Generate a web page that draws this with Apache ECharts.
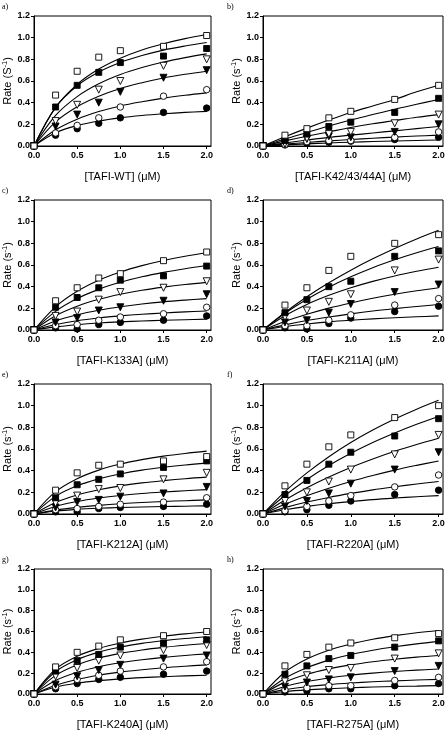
<!DOCTYPE html>
<html>
<head>
<meta charset="utf-8">
<script src="https://cdn.jsdelivr.net/npm/echarts@6/dist/echarts.min.js"></script>
<style>
html,body{margin:0;padding:0;background:#fff;}
#chart{width:448px;height:731px;}
</style>
</head>
<body>
<div id="chart"></div>
<script>
// ---------- data ----------
const xPoints = [0, 0.25, 0.5, 0.75, 1.0, 1.5, 2.0];
const xFit = [0, 0.25, 0.5, 0.75, 1.0, 1.25, 1.5, 1.75, 2.0];
const xTicks = [0, 0.5, 1.0, 1.5, 2.0];
const yTicks = [0, 0.2, 0.4, 0.6, 0.8, 1.0, 1.2];
const seriesNames = ['open square', 'filled square', 'open triangle', 'filled triangle', 'open circle', 'filled circle'];
const panelLetters = ['a)', 'b)', 'c)', 'd)', 'e)', 'f)', 'g)', 'h)'];
const xTitles = ['[TAFI-WT] (\u03bcM)', '[TAFI-K42/43/44A] (\u03bcM)', '[TAFI-K133A] (\u03bcM)', '[TAFI-K211A] (\u03bcM)',
  '[TAFI-K212A] (\u03bcM)', '[TAFI-R220A] (\u03bcM)', '[TAFI-K240A] (\u03bcM)', '[TAFI-R275A] (\u03bcM)'];
const yTitleUnits = ['S', 's', 's', 's', 's', 's', 's', 's'];

// measured points (rows: open sq, filled sq, open tri, filled tri, open circ, filled circ)
const pointsA = [
  [0, 0.47, 0.69, 0.82, 0.88, 0.92, 1.02],
  [0, 0.36, 0.56, 0.68, 0.77, 0.83, 0.90],
  [0, 0.23, 0.38, 0.52, 0.60, 0.74, 0.80],
  [0, 0.18, 0.29, 0.40, 0.50, 0.63, 0.70],
  [0, 0.12, 0.19, 0.26, 0.36, 0.46, 0.52],
  [0, 0.10, 0.16, 0.21, 0.26, 0.31, 0.35]
];
const fitA = [
  [0, 0.356, 0.569, 0.710, 0.810, 0.886, 0.944, 0.991, 1.029],
  [0, 0.357, 0.556, 0.683, 0.771, 0.835, 0.885, 0.923, 0.955],
  [0, 0.282, 0.456, 0.574, 0.660, 0.724, 0.775, 0.816, 0.850],
  [0, 0.223, 0.363, 0.459, 0.531, 0.584, 0.628, 0.662, 0.690],
  [0, 0.150, 0.248, 0.318, 0.370, 0.409, 0.442, 0.468, 0.490],
  [0, 0.122, 0.189, 0.231, 0.260, 0.281, 0.297, 0.310, 0.320]
];
const pointsB = [
  [0, 0.10, 0.16, 0.26, 0.32, 0.43, 0.56],
  [0, 0.05, 0.11, 0.18, 0.22, 0.31, 0.44],
  [0, 0.02, 0.07, 0.11, 0.13, 0.21, 0.29],
  [0, 0.03, 0.065, 0.09, 0.08, 0.13, 0.20],
  [0, 0.015, 0.04, 0.05, 0.05, 0.08, 0.13],
  [0, 0.01, 0.025, 0.035, 0.045, 0.06, 0.08]
];
const fitB = [
  [0, 0.085, 0.165, 0.240, 0.310, 0.370, 0.430, 0.500, 0.560],
  [0, 0.065, 0.125, 0.185, 0.240, 0.290, 0.340, 0.385, 0.430],
  [0, 0.047, 0.090, 0.130, 0.170, 0.205, 0.235, 0.265, 0.290],
  [0, 0.028, 0.055, 0.080, 0.100, 0.120, 0.140, 0.160, 0.180],
  [0, 0.017, 0.033, 0.047, 0.060, 0.072, 0.082, 0.092, 0.100],
  [0, 0.010, 0.020, 0.028, 0.035, 0.041, 0.046, 0.051, 0.055]
];
const pointsC = [
  [0, 0.27, 0.39, 0.48, 0.52, 0.64, 0.72],
  [0, 0.21, 0.30, 0.39, 0.46, 0.50, 0.59],
  [0, 0.13, 0.17, 0.28, 0.35, 0.39, 0.45],
  [0, 0.07, 0.11, 0.18, 0.21, 0.27, 0.33],
  [0, 0.04, 0.05, 0.09, 0.12, 0.15, 0.21],
  [0, 0.02, 0.01, 0.05, 0.07, 0.09, 0.13]
];
const fitC = [
  [0, 0.214, 0.357, 0.459, 0.535, 0.594, 0.642, 0.681, 0.713],
  [0, 0.172, 0.290, 0.375, 0.440, 0.491, 0.532, 0.566, 0.595],
  [0, 0.132, 0.220, 0.283, 0.330, 0.367, 0.396, 0.420, 0.440],
  [0, 0.084, 0.141, 0.183, 0.215, 0.240, 0.260, 0.276, 0.290],
  [0, 0.051, 0.086, 0.111, 0.130, 0.145, 0.157, 0.167, 0.175],
  [0, 0.029, 0.049, 0.064, 0.075, 0.083, 0.090, 0.095, 0.100]
];
const pointsD = [
  [0, 0.23, 0.39, 0.55, 0.68, 0.80, 0.88],
  [0, 0.16, 0.28, 0.40, 0.45, 0.68, 0.73],
  [0, 0.12, 0.18, 0.26, 0.33, 0.55, 0.65],
  [0, 0.07, 0.09, 0.16, 0.24, 0.35, 0.42],
  [0, 0.04, 0.04, 0.09, 0.14, 0.23, 0.29],
  [0, 0.02, 0.01, 0.06, 0.11, 0.17, 0.22]
];
const fitD = [
  [0, 0.162, 0.307, 0.436, 0.552, 0.657, 0.753, 0.840, 0.920],
  [0, 0.154, 0.284, 0.395, 0.491, 0.575, 0.648, 0.713, 0.770],
  [0, 0.132, 0.236, 0.320, 0.390, 0.449, 0.499, 0.542, 0.580],
  [0, 0.079, 0.145, 0.202, 0.250, 0.293, 0.330, 0.362, 0.390],
  [0, 0.047, 0.087, 0.120, 0.149, 0.175, 0.197, 0.217, 0.235],
  [0, 0.032, 0.056, 0.075, 0.090, 0.103, 0.113, 0.122, 0.130]
];
const pointsE = [
  [0, 0.22, 0.38, 0.45, 0.46, 0.49, 0.53],
  [0, 0.15, 0.27, 0.32, 0.37, 0.43, 0.49],
  [0, 0.10, 0.17, 0.23, 0.24, 0.32, 0.38],
  [0, 0.06, 0.11, 0.13, 0.16, 0.19, 0.25],
  [0, 0.04, 0.05, 0.07, 0.09, 0.11, 0.15],
  [0, 0.02, 0.02, 0.05, 0.06, 0.07, 0.09]
];
const fitE = [
  [0, 0.206, 0.326, 0.405, 0.461, 0.502, 0.534, 0.559, 0.580],
  [0, 0.163, 0.260, 0.324, 0.370, 0.405, 0.431, 0.453, 0.470],
  [0, 0.107, 0.176, 0.224, 0.260, 0.287, 0.308, 0.326, 0.340],
  [0, 0.070, 0.115, 0.147, 0.171, 0.189, 0.203, 0.215, 0.225],
  [0, 0.036, 0.061, 0.080, 0.095, 0.106, 0.116, 0.123, 0.130],
  [0, 0.027, 0.043, 0.053, 0.060, 0.065, 0.069, 0.072, 0.075]
];
const pointsF = [
  [0, 0.26, 0.46, 0.62, 0.73, 0.89, 1.00],
  [0, 0.18, 0.31, 0.46, 0.57, 0.72, 0.88],
  [0, 0.12, 0.20, 0.30, 0.41, 0.55, 0.73],
  [0, 0.07, 0.12, 0.19, 0.28, 0.41, 0.57],
  [0, 0.03, 0.07, 0.12, 0.17, 0.25, 0.36],
  [0, 0.02, 0.04, 0.08, 0.12, 0.18, 0.22]
];
const fitF = [
  [0, 0.206, 0.379, 0.529, 0.660, 0.775, 0.877, 0.968, 1.050],
  [0, 0.171, 0.319, 0.447, 0.560, 0.660, 0.748, 0.828, 0.900],
  [0, 0.130, 0.243, 0.342, 0.430, 0.508, 0.579, 0.642, 0.700],
  [0, 0.090, 0.169, 0.238, 0.300, 0.355, 0.405, 0.449, 0.490],
  [0, 0.059, 0.110, 0.153, 0.190, 0.223, 0.251, 0.277, 0.300],
  [0, 0.039, 0.070, 0.095, 0.115, 0.133, 0.147, 0.159, 0.170]
];
const pointsG = [
  [0, 0.26, 0.40, 0.46, 0.52, 0.56, 0.60],
  [0, 0.22, 0.32, 0.38, 0.45, 0.49, 0.52],
  [0, 0.17, 0.25, 0.32, 0.37, 0.42, 0.47],
  [0, 0.09, 0.17, 0.23, 0.28, 0.34, 0.37],
  [0, 0.07, 0.14, 0.18, 0.22, 0.26, 0.31],
  [0, 0.05, 0.10, 0.14, 0.16, 0.19, 0.22]
];
const fitG = [
  [0, 0.238, 0.362, 0.438, 0.490, 0.527, 0.555, 0.577, 0.595],
  [0, 0.216, 0.330, 0.402, 0.450, 0.486, 0.512, 0.533, 0.550],
  [0, 0.179, 0.280, 0.345, 0.390, 0.423, 0.448, 0.468, 0.485],
  [0, 0.129, 0.208, 0.262, 0.300, 0.329, 0.352, 0.370, 0.385],
  [0, 0.084, 0.140, 0.180, 0.210, 0.233, 0.252, 0.267, 0.280],
  [0, 0.067, 0.104, 0.128, 0.145, 0.157, 0.166, 0.174, 0.180]
];
const pointsH = [
  [0, 0.27, 0.38, 0.45, 0.49, 0.54, 0.58],
  [0, 0.19, 0.27, 0.34, 0.37, 0.45, 0.51],
  [0, 0.12, 0.18, 0.23, 0.25, 0.34, 0.39],
  [0, 0.07, 0.11, 0.14, 0.16, 0.22, 0.27],
  [0, 0.04, 0.06, 0.08, 0.08, 0.13, 0.16],
  [0, 0.02, 0.03, 0.05, 0.05, 0.08, 0.10]
];
const fitH = [
  [0, 0.211, 0.337, 0.421, 0.480, 0.525, 0.560, 0.588, 0.610],
  [0, 0.152, 0.253, 0.325, 0.379, 0.420, 0.453, 0.481, 0.505],
  [0, 0.114, 0.189, 0.241, 0.280, 0.310, 0.334, 0.354, 0.370],
  [0, 0.072, 0.120, 0.154, 0.180, 0.200, 0.216, 0.229, 0.240],
  [0, 0.042, 0.070, 0.090, 0.105, 0.117, 0.126, 0.134, 0.140],
  [0, 0.024, 0.040, 0.051, 0.060, 0.067, 0.072, 0.076, 0.080]
];

const allPoints = [pointsA, pointsB, pointsC, pointsD, pointsE, pointsF, pointsG, pointsH];
const allFits = [fitA, fitB, fitC, fitD, fitE, fitF, fitG, fitH];

// ---------- styles / layout ----------
const markerStyles = [
  { symbol: 'rect', size: 6, rotate: 0, fill: '#fff' },
  { symbol: 'rect', size: 6, rotate: 0, fill: '#000' },
  { symbol: 'triangle', size: 7, rotate: 180, fill: '#fff' },
  { symbol: 'triangle', size: 7, rotate: 180, fill: '#000' },
  { symbol: 'circle', size: 6.5, rotate: 0, fill: '#fff' },
  { symbol: 'circle', size: 6.5, rotate: 0, fill: '#000' }
];
const lefts = [31, 263];
const tops = [16, 200, 384, 569];
const W = 180, H = 130;
const FONT = 'Liberation Sans, Arial, sans-serif';

const grids = [], xAxes = [], yAxes = [], series = [], graphics = [];
for (let p = 0; p < 8; p++) {
  const col = p % 2, row = Math.floor(p / 2);
  const left = lefts[col], top = tops[row];
  grids.push({ left: left, top: top, width: W, height: H, show: true, borderColor: '#000', borderWidth: 1, backgroundColor: 'transparent' });
  xAxes.push({
    type: 'value', gridIndex: p, min: 0, max: 2.05,
    axisLine: { show: true, onZero: false, lineStyle: { color: '#000', width: 1 } },
    axisTick: { show: true, length: 3, customValues: xTicks, lineStyle: { color: '#000' } },
    axisLabel: { customValues: xTicks, color: '#000', fontFamily: FONT, fontSize: 9, fontWeight: 'bold', margin: 5,
      formatter: v => v.toFixed(1) },
    splitLine: { show: false },
    name: xTitles[p], nameLocation: 'middle', nameGap: 25,
    nameTextStyle: { color: '#000', fontFamily: FONT, fontSize: 11 }
  });
  yAxes.push({
    type: 'value', gridIndex: p, min: 0, max: 1.2, interval: 0.2,
    axisLine: { show: true, onZero: false, lineStyle: { color: '#000', width: 1 } },
    axisTick: { show: true, length: 3, lineStyle: { color: '#000' } },
    axisLabel: { color: '#000', fontFamily: FONT, fontSize: 9, fontWeight: 'bold', margin: 4,
      formatter: v => v.toFixed(1) },
    splitLine: { show: false },
    name: '{n|Rate (' + yTitleUnits[p] + '}{s|-1}{n|)}', nameLocation: 'middle', nameGap: 19, nameRotate: 90,
    nameTextStyle: {
      color: '#000', fontFamily: FONT, fontSize: 11,
      rich: {
        n: { fontFamily: FONT, fontSize: 11, color: '#000' },
        s: { fontFamily: FONT, fontSize: 7.5, color: '#000', padding: [0, 0, 6, 0] }
      }
    }
  });
  // fitted curves
  for (let s = 0; s < 6; s++) {
    series.push({
      type: 'line', xAxisIndex: p, yAxisIndex: p, name: seriesNames[s],
      data: xFit.map((x, i) => [x, allFits[p][s][i]]),
      smooth: 0.35, showSymbol: false, symbol: 'none', clip: false,
      lineStyle: { color: '#000', width: 1.1 }, z: 2, silent: true
    });
  }
  // points (bottom series first, open square last)
  for (let s = 5; s >= 0; s--) {
    const m = markerStyles[s];
    series.push({
      type: 'scatter', xAxisIndex: p, yAxisIndex: p, name: seriesNames[s],
      data: xPoints.map((x, i) => [x, allPoints[p][s][i]]),
      symbol: m.symbol, symbolSize: m.size, symbolRotate: m.rotate, clip: false,
      itemStyle: { color: m.fill, borderColor: '#000', borderWidth: 0.9, opacity: 1 },
      z: 3, silent: true
    });
  }
  graphics.push({
    type: 'text', left: col === 0 ? 2 : 227, top: top - 13,
    style: { text: panelLetters[p], font: '8px "Liberation Serif", "DejaVu Serif", serif', fill: '#000' }
  });
}

const chart = echarts.init(document.getElementById('chart'), null, { renderer: 'canvas' });
chart.setOption({
  animation: false,
  backgroundColor: '#fff',
  grid: grids, xAxis: xAxes, yAxis: yAxes, series: series, graphic: graphics
});
</script>
</body>
</html>
